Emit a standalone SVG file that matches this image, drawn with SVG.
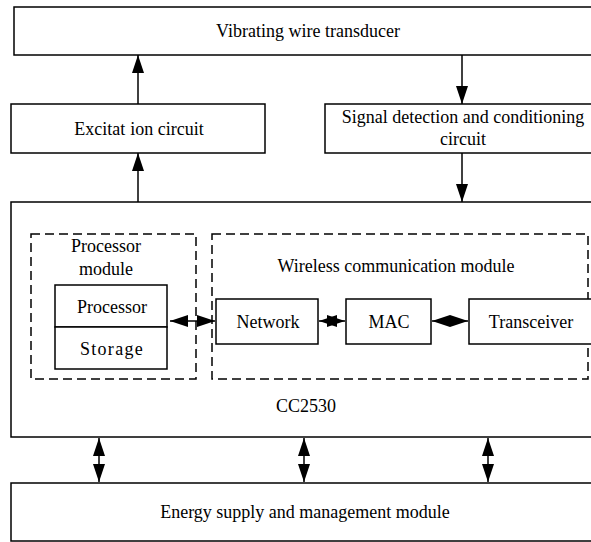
<svg xmlns="http://www.w3.org/2000/svg" width="591" height="542" viewBox="0 0 591 542">
<style>
  .box{fill:#fff;stroke:#000;stroke-width:1.5}
  .dash{fill:none;stroke:#000;stroke-width:1.5;stroke-dasharray:9 5}
  .t{font-size:18px;fill:#000;text-anchor:middle}
  .sp{letter-spacing:1.3px}
  .c{fill:none;stroke:#000;stroke-width:1.5}
</style>
<defs>
  <marker id="ah" markerUnits="userSpaceOnUse" markerWidth="18" markerHeight="12" refX="18" refY="6" orient="auto-start-reverse">
    <path d="M0,0 L18,6 L0,12 z" fill="#000"/>
  </marker>
</defs>
<rect width="591" height="542" fill="#fff"/>
<g font-family="'Liberation Serif', 'DejaVu Serif', serif">
<g id="transducer">
  <rect class="box" x="14" y="7" width="580" height="48"/>
  <text class="t" x="308" y="37">Vibrating wire transducer</text>
</g>
<g id="excitation">
  <rect class="box" x="11" y="104" width="254" height="49"/>
  <text class="t" x="139" y="135">Excitat<tspan dx="5">ion circuit</tspan></text>
</g>
<g id="signal">
  <rect class="box" x="325" y="104" width="270" height="49"/>
  <text class="t" x="463" y="123">Signal detection and conditioning</text>
  <text class="t" x="463" y="145">circuit</text>
</g>
<g id="cc2530">
  <rect class="box" x="11" y="202" width="584" height="235"/>
  <text class="t" x="306" y="412">CC2530</text>
</g>
<g id="processor-module">
  <rect class="dash" x="31" y="234" width="165" height="145"/>
  <text class="t" x="106" y="252">Processor</text>
  <text class="t" x="106" y="275">module</text>
</g>
<g id="processor">
  <rect class="box" x="55" y="285" width="112" height="42"/>
  <text class="t" x="112" y="313">Processor</text>
</g>
<g id="storage">
  <rect class="box" x="55" y="327" width="112" height="42"/>
  <text class="t sp" x="112" y="355">Storage</text>
</g>
<g id="wireless-module">
  <rect class="dash" x="212" y="234" width="376" height="145"/>
  <text class="t" x="396" y="272">Wireless communication module</text>
</g>
<g id="network">
  <rect class="box" x="216" y="299" width="102" height="45"/>
  <text class="t" x="268" y="328">Network</text>
</g>
<g id="mac">
  <rect class="box" x="346" y="299" width="85" height="45"/>
  <text class="t" x="389" y="328">MAC</text>
</g>
<g id="transceiver">
  <rect class="box" x="469" y="299" width="125" height="45"/>
  <text class="t" x="531" y="328">Transceiver</text>
</g>
<g id="energy">
  <rect class="box" x="11" y="483" width="584" height="58"/>
  <text class="t" x="305" y="518">Energy supply and management module</text>
</g>
</g>
<g id="connectors">
  <line class="c" x1="138" y1="104" x2="138" y2="55" marker-end="url(#ah)"/>
  <line class="c" x1="462" y1="55" x2="462" y2="104" marker-end="url(#ah)"/>
  <line class="c" x1="138" y1="202" x2="138" y2="153" marker-end="url(#ah)"/>
  <line class="c" x1="462" y1="153" x2="462" y2="202" marker-end="url(#ah)"/>
  <line class="c" x1="170" y1="321" x2="215" y2="321" marker-start="url(#ah)" marker-end="url(#ah)"/>
  <line class="c" x1="319" y1="321" x2="345" y2="321" marker-start="url(#ah)" marker-end="url(#ah)"/>
  <line class="c" x1="432" y1="321" x2="468" y2="321" marker-start="url(#ah)" marker-end="url(#ah)"/>
  <line class="c" x1="99" y1="438" x2="99" y2="482" marker-start="url(#ah)" marker-end="url(#ah)"/>
  <line class="c" x1="304" y1="438" x2="304" y2="482" marker-start="url(#ah)" marker-end="url(#ah)"/>
  <line class="c" x1="488" y1="438" x2="488" y2="482" marker-start="url(#ah)" marker-end="url(#ah)"/>
</g>
</svg>
